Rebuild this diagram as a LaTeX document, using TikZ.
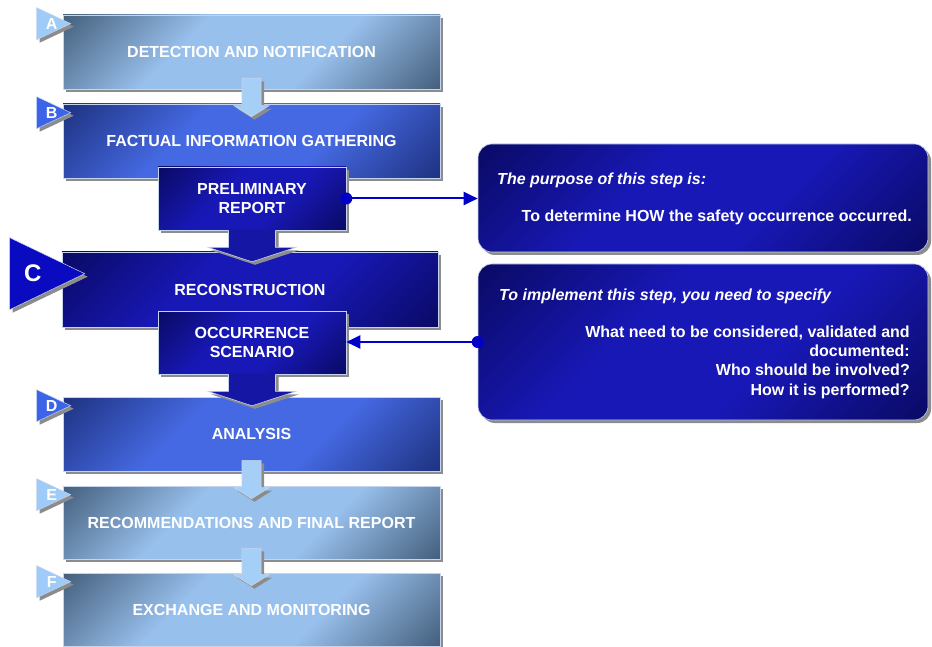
\documentclass[tikz,border=0pt]{standalone}
\usepackage{fontspec}
\setmainfont{Liberation Sans}
\usetikzlibrary{arrows.meta, calc, shadows}
\definecolor{icpale}{HTML}{98C0EC}
\definecolor{icslate}{HTML}{46617F}
\definecolor{icmid}{HTML}{4569E2}
\definecolor{icmiddark}{HTML}{1F3382}
\definecolor{icdeep}{HTML}{1818B6}
\definecolor{icnavy}{HTML}{0A0A66}
\definecolor{icline}{HTML}{0000C8}
\definecolor{icedge}{HTML}{C4D4EE}
\definecolor{icarrow}{HTML}{A6CFF7}
\definecolor{icmarkpale}{HTML}{9ECBF7}
\definecolor{icmarkmid}{HTML}{3C64E8}
\definecolor{icmarkdeep}{HTML}{0A0AC0}
\pgfdeclareverticalshading{lightshade}{100bp}{color(0bp)=(icslate); color(15bp)=(icslate);
  color(38bp)=(icpale); color(62bp)=(icpale); color(85bp)=(icslate); color(100bp)=(icslate)}
\pgfdeclareverticalshading{midshade}{100bp}{color(0bp)=(icmiddark); color(15bp)=(icmiddark);
  color(38bp)=(icmid); color(62bp)=(icmid); color(85bp)=(icmiddark); color(100bp)=(icmiddark)}
\pgfdeclareverticalshading{deepshade}{100bp}{color(0bp)=(icnavy); color(15bp)=(icnavy);
  color(40bp)=(icdeep); color(60bp)=(icdeep); color(85bp)=(icnavy); color(100bp)=(icnavy)}

\begin{document}
\begin{tikzpicture}[x=1pt, y=-1pt,
    font=\fontsize{16}{19.3}\selectfont\bfseries,
    shadowed/.style={drop shadow={shadow xshift=3pt, shadow yshift=-3pt, fill=black!45, opacity=1}},
    stepbox/.style={rectangle, draw=icedge, line width=0.6pt, text=white, align=center,
                    inner sep=0pt, shadowed, shade, shading angle=45},
    lightbox/.style={stepbox, shading=lightshade, minimum width=377pt, minimum height=74pt},
    midbox/.style={stepbox, shading=midshade, minimum width=377pt, minimum height=74pt},
    deepbox/.style={stepbox, shading=deepshade},
    subbox/.style={deepbox, minimum width=188pt, minimum height=63pt},
    callout/.style={deepbox, rounded corners=14pt, minimum width=450pt},
    marker/.style={fill=#1, draw=icedge, line width=0.5pt, shadowed},
    markerlabel/.style={text=white, inner sep=0pt},
    lightarrow/.style={fill=icarrow, draw=icedge, line width=0.6pt, shadowed},
    deeparrow/.style={fill=icdeep!90!black, shadowed},
    conn/.style={-{Triangle[length=14pt, width=13pt]}, icline, line width=2pt}
  ]
    \useasboundingbox (0,0) rectangle (932,647);

    % main steps
    \node[lightbox] (detect) at (251.5,52) {DETECTION AND NOTIFICATION};
    \node[midbox] (gather) at (251.5,141) {FACTUAL INFORMATION GATHERING};
    \node[deepbox, minimum width=376pt, minimum height=75pt] (recon) at (250,289.5) {RECONSTRUCTION};
    \node[midbox] (analysis) at (251.5,434) {ANALYSIS};
    \node[lightbox, minimum height=73pt] (recommend) at (251.5,522.5) {RECOMMENDATIONS AND FINAL REPORT};
    \node[lightbox, minimum height=73pt] (exchange) at (251.5,609.5) {EXCHANGE AND MONITORING};

    % light arrows between steps
    \foreach \a/\b in {detect/gather, analysis/recommend, recommend/exchange}
      \draw[lightarrow] ($(\a.south)+(-9.5,-11)$) -- ($(\a.south)+(9.5,-11)$)
        -- ($(\b.north)+(9.5,2)$) -- ($(\b.north)+(17.5,2)$) -- ($(\b.north)+(0,13)$)
        -- ($(\b.north)+(-17.5,2)$) -- ($(\b.north)+(-9.5,2)$) -- cycle;

    % outputs of step B and C
    \node[subbox] (prelim) at (252,198.5) {PRELIMINARY\\REPORT};
    \node[subbox] (scenario) at (252,342.5) {OCCURRENCE\\SCENARIO};

    \foreach \a in {prelim, scenario} {
      \fill[deeparrow] ($(\a.south)+(-23.5,-1)$) -- ($(\a.south)+(23.5,-1)$)
        -- ($(\a.south)+(23.5,17)$) -- ($(\a.south)+(44,17)$) -- ($(\a.south)+(0,31.5)$)
        -- ($(\a.south)+(-44,17)$) -- ($(\a.south)+(-23.5,17)$) -- cycle;
      \draw[icedge, line width=0.6pt] ($(\a.south)+(23.5,0)$)
        -- ($(\a.south)+(23.5,17)$) -- ($(\a.south)+(44,17)$) -- ($(\a.south)+(0,31.5)$)
        -- ($(\a.south)+(-44,17)$) -- ($(\a.south)+(-23.5,17)$) -- ($(\a.south)+(-23.5,0)$);
    }

    % step letters
    \foreach \b/\l/\c in {detect/A/icmarkpale, gather/B/icmarkmid, analysis/D/icmarkmid,
                          recommend/E/icmarkpale, exchange/F/icmarkpale} {
      \path[marker=\c] ($(\b.north west)+(-26,-7)$) -- ($(\b.north west)+(8,9)$)
        -- ($(\b.north west)+(-26,25)$) -- cycle;
      \node[markerlabel] (mark\l) at ($(\b.north west)+(-11,9)$) {\l};
    }
    \path[marker=icmarkdeep] ($(recon.north west)+(-52,-14)$) -- ($(recon.north west)+(23,22)$)
      -- ($(recon.north west)+(-52,58)$) -- cycle;
    \node[markerlabel, font=\fontsize{24}{26}\selectfont\bfseries] (markC)
      at ($(recon.north west)+(-29,22)$) {C};

    % explanations
    \node[callout, minimum height=108pt] (purpose) at (703,198) {};
    \node[text=white, anchor=west, font=\fontsize{16}{19.3}\selectfont\bfseries\itshape] (purposehead)
      at ($(purpose.west)+(16,-18)$) {The purpose of this step is:};
    \node[text=white, anchor=east] (purposetext) at ($(purpose.east)+(-13,19)$)
      {To determine HOW the safety occurrence occurred.};

    \node[callout, minimum height=156pt] (implement) at (703,342) {};
    \node[text=white, anchor=west, font=\fontsize{16}{19.3}\selectfont\bfseries\itshape] (implhead)
      at ($(implement.west)+(18,-46)$) {To implement this step, you need to specify};
    \node[text=white, anchor=east, align=right] (impltext) at ($(implement.east)+(-15,20)$)
      {What need to be considered, validated and\\documented:\\Who should be involved?\\How it is performed?};

    % links
    \draw[conn] (prelim.east) -- (prelim.east -| purpose.west);
    \fill[icline] (prelim.east) circle (6pt);
    \draw[conn] (implement.west) -- (implement.west -| scenario.east);
    \fill[icline] (implement.west) circle (6pt);
  \end{tikzpicture}
\end{document}
